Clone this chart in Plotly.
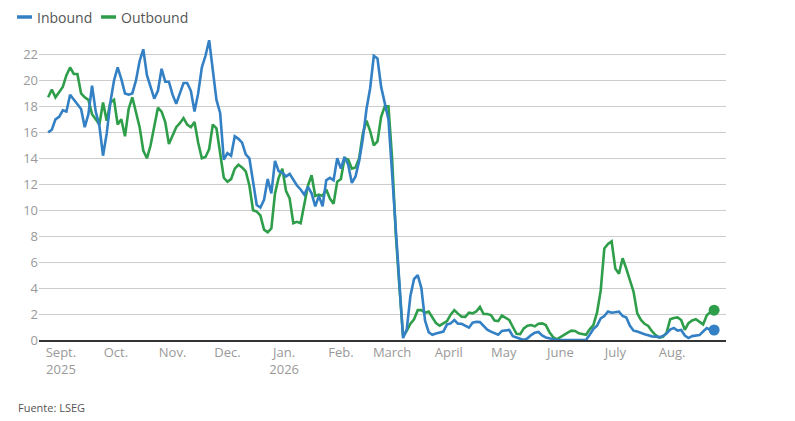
import pandas as pd
import plotly.graph_objects as go

# Daily-ish readings, one value every 2 days starting 1 Sept 2025
start_date = "2025-09-01"

inbound = [
    16.0, 16.2, 17.0, 17.2, 17.7, 17.6, 18.9, 18.5, 18.2, 17.8,
    16.4, 17.4, 19.6, 17.6, 16.5, 14.2, 15.9, 18.3, 20.0, 21.0,
    20.1, 19.0, 18.9, 19.0, 20.0, 21.5, 22.4, 20.4, 19.5, 18.6,
    19.2, 20.9, 19.9, 19.9, 18.9, 18.2, 19.0, 19.8, 19.8,
    19.2, 17.6, 19.0, 21.0, 21.9, 23.1, 21.0, 18.5, 17.5, 13.9,
    14.4, 14.2, 15.7, 15.5, 15.2, 14.3, 14.0, 12.0, 10.4, 10.2,
    10.8, 12.4, 11.3, 13.8, 13.0, 12.9, 12.6, 12.8, 12.3, 11.9,
    11.6, 11.2, 11.8, 11.3, 10.3, 11.1, 10.3, 12.3,
    12.5, 12.3, 14.0, 13.2, 14.1, 13.5, 12.1, 12.6, 13.8, 15.5,
    17.8, 19.4, 21.9, 21.7, 19.5, 18.2, 17.0, 12.8, 8.4, 3.7,
    0.15, 0.8, 3.4, 4.7, 5.0, 4.0, 1.5, 0.6, 0.4, 0.5,
    0.56, 0.65, 1.2, 1.28, 1.54, 1.25, 1.25, 1.08, 0.95, 1.33,
    1.4, 1.38, 1.1, 0.8, 0.64, 0.5, 0.4, 0.7, 0.75, 0.77,
    0.3, 0.22, 0.1, 0.0, 0.13, 0.38, 0.56, 0.62, 0.35, 0.2,
    0.12, 0.05, 0.0, 0.0, 0.0, 0.0, 0.0, 0.0, 0.0,
    0.0, 0.0, 0.4, 0.85, 1.1, 1.67, 1.85, 2.2, 2.1, 2.15,
    2.18, 1.85, 1.74, 1.1, 0.72, 0.65, 0.53, 0.44, 0.36, 0.28,
    0.26, 0.22, 0.3, 0.5, 0.8, 0.93, 0.73, 0.77, 0.35, 0.15,
    0.3, 0.33, 0.38, 0.65, 0.92, 0.77, 0.77,
]

outbound = [
    18.7, 19.3, 18.7, 19.1, 19.5, 20.4, 21.0, 20.5, 20.5, 19.0,
    18.7, 18.5, 17.4, 17.0, 16.6, 18.3, 16.9, 18.3, 18.5, 16.6,
    17.0, 15.7, 17.8, 18.7, 17.5, 16.4, 14.6, 14.0, 15.0, 16.4,
    17.9, 17.6, 16.8, 15.1, 15.7, 16.4, 16.7, 17.1, 16.6,
    16.4, 16.8, 15.2, 14.0, 14.1, 14.7, 16.6, 16.3, 14.3, 12.5,
    12.2, 12.4, 13.2, 13.5, 13.3, 13.0, 11.9, 10.0, 9.9, 9.6,
    8.5, 8.3, 8.6, 11.3, 12.5, 13.2, 11.5, 10.9, 9.0, 9.1,
    9.0, 10.5, 11.9, 12.7, 11.1, 11.2, 11.1, 11.6,
    10.9, 10.5, 12.2, 12.4, 14.0, 13.9, 13.2, 13.3, 14.0, 15.9,
    16.9, 16.1, 15.0, 15.3, 17.2, 18.0, 18.0, 14.0, 8.2, 4.1,
    0.3, 0.7, 1.25, 1.6, 2.3, 2.3, 2.1, 2.2, 1.7, 1.3,
    1.1, 1.3, 1.45, 1.95, 2.3, 2.03, 1.8, 1.78, 2.1, 2.05,
    2.2, 2.55, 2.0, 2.0, 1.92, 1.5, 1.45, 1.88, 1.7, 1.54,
    1.0, 0.48, 0.45, 0.9, 1.1, 1.15, 1.05, 1.25, 1.28, 1.15,
    0.6, 0.22, 0.05, 0.2, 0.38, 0.56, 0.72, 0.7, 0.52,
    0.46, 0.4, 0.82, 1.15, 2.1, 3.8, 7.05, 7.4, 7.6, 5.5,
    5.1, 6.3, 5.5, 4.5, 3.7, 2.05, 1.55, 1.25, 1.08, 0.68,
    0.38, 0.18, 0.25, 0.55, 1.6, 1.7, 1.74, 1.54, 0.78, 1.3,
    1.5, 1.6, 1.41, 1.2, 1.9, 2.15, 2.3,
]

# Month labels (placed a week into each month, like the original)
tick_dates = ["2025-09-08", "2025-10-08", "2025-11-08", "2025-12-08",
              "2026-01-08", "2026-02-08", "2026-03-08", "2026-04-08",
              "2026-05-08", "2026-06-08", "2026-07-08", "2026-08-08"]
tick_labels = ["Sept.<br>2025", "Oct.", "Nov.", "Dec.", "Jan.<br>2026", "Feb.",
               "March", "April", "May", "June", "July", "Aug."]

dates = pd.date_range(start_date, periods=len(inbound), freq="2D")

blue = "#3380c4"
green = "#2e9e4a"

fig = go.Figure()

fig.add_trace(go.Scatter(x=dates, y=outbound, mode="lines", name="Outbound",
                         line=dict(color=green, width=2.6)))
fig.add_trace(go.Scatter(x=dates, y=inbound, mode="lines", name="Inbound",
                         line=dict(color=blue, width=2.6)))

# end-point dots
fig.add_trace(go.Scatter(x=[dates[-1]], y=[outbound[-1]], mode="markers",
                         marker=dict(color=green, size=11)))
fig.add_trace(go.Scatter(x=[dates[-1]], y=[inbound[-1]], mode="markers",
                         marker=dict(color=blue, size=11)))

# the page has an 8px body margin, so the figure is drawn 8px smaller
# and everything below is measured in window pixels minus that offset
PAD = 8
W, H = 795 - PAD, 421 - PAD
ml, mt = 39 - PAD, 35 - PAD
mr, mb = 795 - 726, 421 - 340
pw, ph = W - ml - mr, H - mt - mb


def px_x(px):
    return (px - PAD - ml) / pw


def px_y(py):
    return (H - mb - (py - PAD)) / ph


# hand-made legend
legend_items = [("Inbound", blue, 17), ("Outbound", green, 101)]
for label, col, x0 in legend_items:
    fig.add_shape(type="line", xref="paper", yref="paper",
                  x0=px_x(x0), x1=px_x(x0 + 15), y0=px_y(17), y1=px_y(17),
                  line=dict(color=col, width=3.5))
    fig.add_annotation(text=label, xref="paper", yref="paper",
                       x=px_x(x0 + 18), y=px_y(17), xanchor="left", yanchor="middle",
                       showarrow=False, font=dict(size=14, color="#555"))

fig.add_annotation(text="Fuente: LSEG", xref="paper", yref="paper",
                   x=px_x(16), y=px_y(407), xanchor="left", yanchor="middle",
                   showarrow=False, font=dict(size=11, color="#555"))

fig.update_layout(
    width=W, height=H,
    margin=dict(l=ml, r=mr, t=mt, b=mb),
    paper_bgcolor="white", plot_bgcolor="white",
    showlegend=False,
    font=dict(family="Open Sans", size=13, color="#999"),
    xaxis=dict(
        range=["2025-08-27", "2026-09-06 12:00"],
        tickvals=tick_dates, ticktext=tick_labels,
        showgrid=False, showline=True, linecolor="#333", linewidth=1.5,
        ticks="", tickfont=dict(size=13, color="#999"), zeroline=False,
    ),
    yaxis=dict(
        range=[0, 23.5], tickvals=list(range(0, 23, 2)),
        showgrid=True, gridcolor="#cccccc", gridwidth=1,
        zeroline=False, showline=False, ticks="",
        tickfont=dict(size=13, color="#999"),
    ),
)

fig.write_html("out.html")
